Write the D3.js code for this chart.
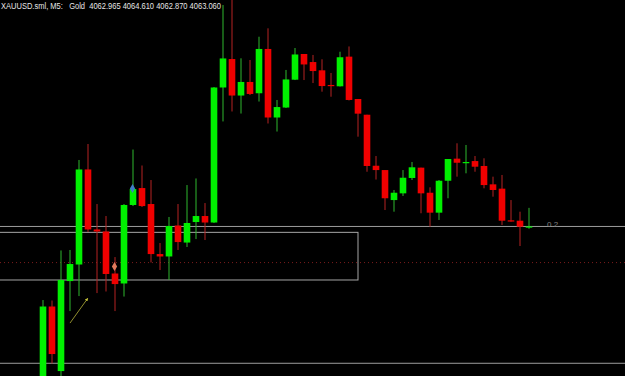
<!DOCTYPE html>
<html>
<head>
<meta charset="utf-8">
<script src="https://cdn.jsdelivr.net/npm/d3@7"></script>
<style>
	html, body { margin: 0; padding: 0; background: #000; }
	svg { display: block; }
</style>
</head>
<body>
<div id="chart"></div>
<script>
"use strict";

const width = 625, height = 376;

//  Candle data (XAUUSD M5)
const opens  = [4049.01, 4056.39, 4051.01, 4058.51, 4059.89, 4067.81, 4062.81, 4062.64, 4059.14, 4058.31,
                4064.85, 4066.26, 4064.93, 4060.76, 4060.56, 4063.14, 4061.72, 4063.43, 4063.93, 4063.39,
                4074.64, 4077.01, 4073.97, 4075.10, 4074.16, 4077.85, 4072.14, 4072.97, 4075.29, 4077.43,
                4076.76, 4076.07, 4074.85, 4074.74, 4077.21, 4073.68, 4072.37, 4068.12, 4067.76, 4065.26,
                4065.82, 4067.10, 4067.96, 4065.87, 4064.21, 4066.87, 4068.71, 4068.37, 4068.51, 4068.10,
                4066.57, 4066.21, 4063.57, 4063.54, 4062.965];
const highs  = [4056.93, 4056.89, 4061.06, 4061.10, 4068.60, 4069.93, 4064.93, 4063.93, 4060.51, 4064.93,
                4069.47, 4068.14, 4066.93, 4061.68, 4063.85, 4064.93, 4066.51, 4067.06, 4065.01, 4074.68,
                4081.51, 4082.35, 4077.07, 4076.93, 4078.87, 4079.57, 4073.60, 4076.10, 4077.93, 4077.43,
                4077.35, 4076.99, 4075.85, 4077.62, 4078.06, 4073.68, 4072.37, 4068.93, 4067.76, 4066.10,
                4067.76, 4068.43, 4067.96, 4066.32, 4066.93, 4068.68, 4069.99, 4069.85, 4068.93, 4068.74,
                4067.21, 4067.35, 4065.26, 4064.29, 4064.610];
const lows   = [4048.60, 4051.64, 4050.43, 4056.01, 4057.26, 4062.60, 4057.51, 4057.64, 4056.01, 4057.22,
                4064.76, 4064.68, 4060.06, 4059.43, 4058.60, 4061.10, 4061.35, 4062.01, 4061.93, 4063.35,
                4071.81, 4072.64, 4072.47, 4074.01, 4073.47, 4071.64, 4070.97, 4072.93, 4075.26, 4075.26,
                4075.01, 4074.29, 4073.87, 4074.72, 4073.56, 4070.54, 4067.62, 4066.97, 4064.43, 4064.29,
                4065.60, 4066.93, 4064.16, 4063.04, 4063.60, 4065.41, 4067.21, 4067.49, 4067.62, 4066.24,
                4065.54, 4063.18, 4063.46, 4061.43, 4062.870];
const closes = [4056.39, 4052.43, 4058.60, 4059.93, 4067.81, 4062.81, 4062.64, 4059.10, 4058.26, 4064.85,
                4066.18, 4064.76, 4060.76, 4060.56, 4063.10, 4061.76, 4063.35, 4063.93, 4063.39, 4074.64,
                4077.06, 4073.97, 4075.10, 4074.10, 4077.85, 4072.14, 4073.01, 4075.31, 4077.39, 4076.56,
                4076.01, 4074.76, 4074.80, 4077.16, 4073.60, 4072.46, 4068.10, 4067.76, 4065.41, 4065.87,
                4067.12, 4067.99, 4065.82, 4064.21, 4066.87, 4068.68, 4068.37, 4068.43, 4068.04, 4066.51,
                4066.10, 4063.54, 4063.54, 4063.04, 4063.060];

//  Horizontal levels and objects
const bidPrice = 4063.06;
const lowLine = 4051.66;
const dottedLevel = 4060.05;
const zoneBox = { from: -6, to: 35, top: 4062.57, bottom: 4058.60 };
const arrowLine = { fromIndex: 3, fromPrice: 4055.01, toIndex: 5, toPrice: 4057.07 };
const marks = [
	{ index: 8, price: 4059.72, color: '#e27a5c' },
	{ index: 10, price: 4066.22, color: '#3f7fc4' }
];
const levelLabel = { index: 56.0, price: 4063.25, text: '0.2' };
const header = ['XAUUSD.sml, M5:', 'Gold', '4062.965 4064.610 4062.870 4063.060'];

const candles = opens.map((o, i) => ({ i: i, o: o, h: highs[i], l: lows[i], c: closes[i] }));

//  Scales
const x = d3.scaleLinear().domain([0, 54]).range([43, 529]);
const y = d3.scaleLinear().domain([4050.60, 4081.93]).range([height, 0]);

const svg = d3.select('#chart').append('svg')
	.attr('width', width)
	.attr('height', height)
	.style('background', '#000');

svg.append('rect')
	.attr('width', width)
	.attr('height', height)
	.attr('fill', '#000');

//  Levels
svg.append('line')
	.attr('x1', 0).attr('x2', width)
	.attr('y1', y(dottedLevel)).attr('y2', y(dottedLevel))
	.attr('stroke', '#7a1c1c')
	.attr('stroke-width', 1)
	.attr('stroke-dasharray', '1,3');

svg.append('rect')
	.attr('x', x(zoneBox.from))
	.attr('y', y(zoneBox.top))
	.attr('width', x(zoneBox.to) - x(zoneBox.from))
	.attr('height', y(zoneBox.bottom) - y(zoneBox.top))
	.attr('fill', 'none')
	.attr('stroke', '#a6a6a6')
	.attr('stroke-width', 1);

[bidPrice, lowLine].forEach(p => svg.append('line')
	.attr('x1', 0).attr('x2', width)
	.attr('y1', y(p)).attr('y2', y(p))
	.attr('stroke', '#9c9c9c')
	.attr('stroke-width', 1));

svg.append('text')
	.attr('x', x(levelLabel.index))
	.attr('y', y(levelLabel.price) + 3)
	.attr('fill', '#808080')
	.attr('font-family', 'Liberation Sans, sans-serif')
	.attr('font-size', 8)
	.text(levelLabel.text);

//  Candles
const bodyWidth = 6.6;
const up = d => d.c >= d.o;

let candle = svg.selectAll('.candle')
	.data(candles)
	.join('g')
	.classed('candle', true);

candle.append('line')
	.attr('x1', d => x(d.i)).attr('x2', d => x(d.i))
	.attr('y1', d => y(d.h)).attr('y2', d => y(d.l))
	.attr('stroke', d => up(d) ? '#2fb82f' : '#b52222')
	.attr('stroke-width', 1);

candle.append('rect')
	.attr('x', d => x(d.i) - bodyWidth / 2)
	.attr('y', d => y(Math.max(d.o, d.c)))
	.attr('width', bodyWidth)
	.attr('height', d => Math.max(1.2, Math.abs(y(d.o) - y(d.c))))
	.attr('fill', d => up(d) ? '#00f000' : '#f00000');

//  Arrow object
svg.append('defs').append('marker')
	.attr('id', 'head')
	.attr('viewBox', '0 0 6 6')
	.attr('refX', 5).attr('refY', 3)
	.attr('markerWidth', 4).attr('markerHeight', 4)
	.attr('orient', 'auto')
	.append('path')
		.attr('d', 'M0,0 L6,3 L0,6 Z')
		.attr('fill', '#c9c63a');

svg.append('line')
	.attr('x1', x(arrowLine.fromIndex)).attr('y1', y(arrowLine.fromPrice))
	.attr('x2', x(arrowLine.toIndex) - 0.3).attr('y2', y(arrowLine.toPrice))
	.attr('stroke', '#b5b23a')
	.attr('stroke-width', 0.8)
	.attr('marker-end', 'url(#head)');

//  Signal marks
svg.selectAll('.mark')
	.data(marks)
	.join('path')
	.classed('mark', true)
	.attr('transform', d => `translate(${x(d.index) - 0.5}, ${y(d.price)})`)
	.attr('d', d3.symbol(d3.symbolDiamond, 24))
	.attr('fill', d => d.color);

//  Header, one text run so the pieces keep their spacing
svg.append('text')
	.attr('x', 1)
	.attr('y', 8.5)
	.attr('textLength', 220)
	.attr('lengthAdjust', 'spacingAndGlyphs')
	.attr('fill', '#e6e6e6')
	.attr('font-family', 'Liberation Sans, sans-serif')
	.attr('font-size', 8.5)
	.style('white-space', 'pre')
	.text(header[0] + '   ' + header[1] + '  ' + header[2]);
</script>
</body>
</html>
